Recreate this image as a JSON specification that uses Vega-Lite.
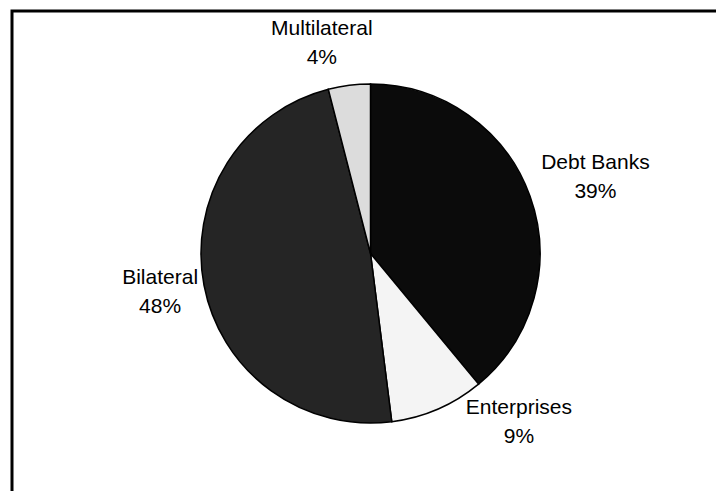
{
  "$schema": "https://vega.github.io/schema/vega-lite/v6.json",
  "width": 717,
  "height": 485,
  "padding": {"left": 12, "top": 11, "right": 0, "bottom": 0},
  "autosize": {"type": "none"},
  "view": {"stroke": "black", "strokeWidth": 3, "fill": "white"},
  "background": "white",
  "config": {"text": {"font": "Liberation Sans", "fontSize": 21, "lineHeight": 29, "lineBreak": "\n", "fill": "black"}},
  "data": {
    "values": [
      {"cat": "Debt Banks", "rank": 1, "value": 39, "label": "Debt Banks\n39%"},
      {"cat": "Enterprises", "rank": 2, "value": 9, "label": "Enterprises\n9%"},
      {"cat": "Bilateral", "rank": 3, "value": 48, "label": "Bilateral\n48%"},
      {"cat": "Multilateral", "rank": 4, "value": 4, "label": "Multilateral\n4%"}
    ]
  },
  "encoding": {
    "theta": {"field": "value", "type": "quantitative", "stack": true},
    "order": {"field": "rank", "type": "quantitative", "sort": "ascending"}
  },
  "layer": [
    {
      "mark": {"type": "arc", "outerRadius": 169.5, "stroke": "black", "strokeWidth": 1.5},
      "encoding": {
        "color": {
          "field": "cat", "type": "nominal", "legend": null,
          "scale": {"domain": ["Debt Banks", "Enterprises", "Bilateral", "Multilateral"],
                    "range": ["#0b0b0b", "#f4f4f4", "#252525", "#dcdcdc"]}
        }
      }
    },
    {
      "mark": {"type": "text", "radius": 238, "baseline": "middle", "align": "center", "lineBreak": "\n", "dx": 1, "dy": -10},
      "encoding": {"text": {"condition": {"test": "datum.cat === 'Debt Banks'", "field": "label"}, "value": ""}}
    },
    {
      "mark": {"type": "text", "radius": 200, "baseline": "middle", "align": "center", "lineBreak": "\n", "dx": 69, "dy": -29},
      "encoding": {"text": {"condition": {"test": "datum.cat === 'Enterprises'", "field": "label"}, "value": ""}}
    },
    {
      "mark": {"type": "text", "radius": 204, "baseline": "middle", "align": "center", "lineBreak": "\n", "dx": -10, "dy": -14},
      "encoding": {"text": {"condition": {"test": "datum.cat === 'Bilateral'", "field": "label"}, "value": ""}}
    },
    {
      "mark": {"type": "text", "radius": 213, "baseline": "middle", "align": "center", "lineBreak": "\n", "dx": -22, "dy": -13},
      "encoding": {"text": {"condition": {"test": "datum.cat === 'Multilateral'", "field": "label"}, "value": ""}}
    }
  ]
}
